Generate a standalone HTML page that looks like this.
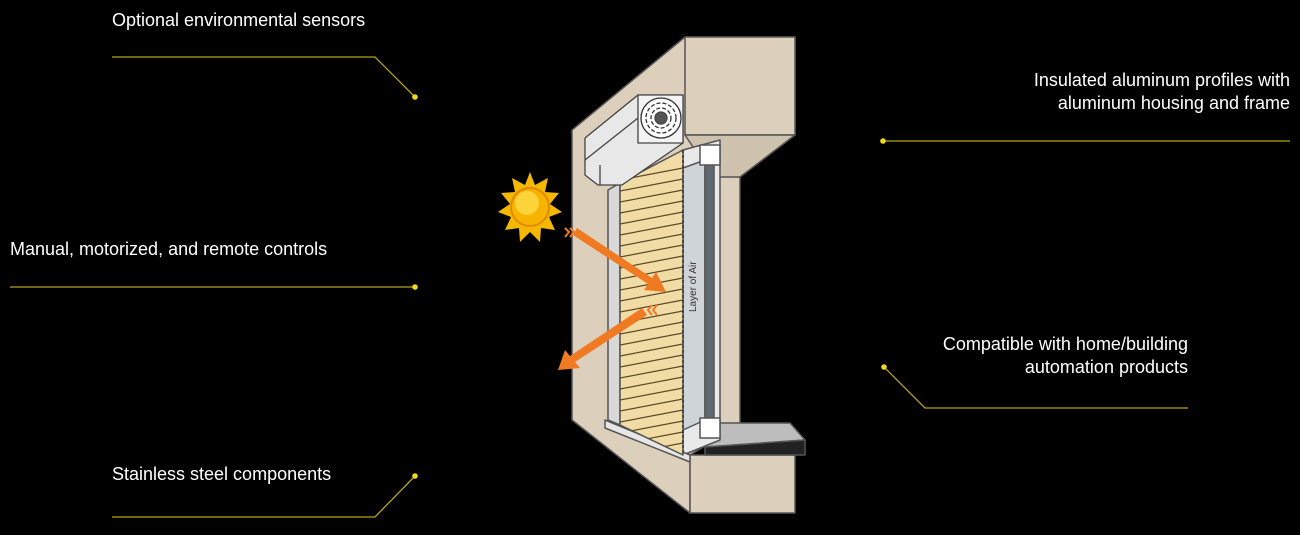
<!DOCTYPE html>
<html><head><meta charset="utf-8"><style>
html,body{margin:0;padding:0;background:#000;}
body{width:1300px;height:535px;position:relative;overflow:hidden;font-family:"Liberation Sans",sans-serif;color:#fff;}
.t{position:absolute;font-size:18px;line-height:23px;white-space:nowrap;}
.r{text-align:right;}
svg{position:absolute;left:0;top:0;}
</style></head><body>
<svg width="1300" height="535" viewBox="0 0 1300 535">
<defs>
<clipPath id="sl"><polygon points="620,183 683,150 683,455 620,425"/></clipPath>
</defs>
<g stroke="#b5a21a" stroke-width="1.3" fill="none">
<polyline points="112,57 375,57 415,97"/>
<polyline points="10,287 415,287"/>
<polyline points="112,517 375,517 415,476"/>
<polyline points="883,141 1290,141"/>
<polyline points="884,367 925,408 1188,408"/>
</g>
<g fill="#f2d81c">
<circle cx="415" cy="97" r="2.8"/><circle cx="415" cy="287" r="2.8"/><circle cx="415" cy="476" r="2.8"/>
<circle cx="883" cy="141" r="2.8"/><circle cx="884" cy="367" r="2.8"/>
</g>
<g stroke="#555" stroke-width="1.5" stroke-linejoin="round">
<polygon fill="#dccfbc" points="572,130 685,37 795,37 795,135 740,177 740,425 690,455 690,513 572,420"/>
<polygon fill="#dccfbc" points="685,37 795,37 795,135 685,135"/>
<polygon fill="#dccfbc" points="690,455 795,455 795,513 690,513"/>
<polygon fill="#cfc2ae" points="685,135 795,135 740,177 713,177"/>
<polygon fill="#bdbdbd" points="700,423 790,423 805,440 705,447"/>
<polygon fill="#222" points="705,447 805,440 805,455 705,455"/>
<polygon fill="#e9e9e9" points="683,150 720,140 720,440 683,455"/>
<polygon fill="#cfd4d8" points="683,168 705,160 705,420 683,430"/>
<polygon fill="#606870" points="705,158 714,155 714,420 705,420"/>
<rect x="700" y="145" width="20" height="20" fill="#fff"/>
<rect x="700" y="418" width="20" height="20" fill="#fff"/>
<polygon fill="#d8d8d8" points="608,190 620,183 620,425 608,420"/>
<polygon fill="#e6e6e6" points="605,420 690,455 690,462 605,428"/>
<polygon fill="#f2dca6" points="620,183 683,150 683,455 620,425"/>
</g>
<g clip-path="url(#sl)" stroke="#5a4a28" stroke-width="1.2">
<line x1="620" y1="180" x2="683" y2="168"/><line x1="620" y1="191" x2="683" y2="179"/><line x1="620" y1="202" x2="683" y2="190"/><line x1="620" y1="213" x2="683" y2="201"/><line x1="620" y1="224" x2="683" y2="212"/><line x1="620" y1="235" x2="683" y2="223"/><line x1="620" y1="246" x2="683" y2="234"/><line x1="620" y1="257" x2="683" y2="245"/><line x1="620" y1="268" x2="683" y2="256"/><line x1="620" y1="279" x2="683" y2="267"/><line x1="620" y1="290" x2="683" y2="278"/><line x1="620" y1="301" x2="683" y2="289"/><line x1="620" y1="312" x2="683" y2="300"/><line x1="620" y1="323" x2="683" y2="311"/><line x1="620" y1="334" x2="683" y2="322"/><line x1="620" y1="345" x2="683" y2="333"/><line x1="620" y1="356" x2="683" y2="344"/><line x1="620" y1="367" x2="683" y2="355"/><line x1="620" y1="378" x2="683" y2="366"/><line x1="620" y1="389" x2="683" y2="377"/><line x1="620" y1="400" x2="683" y2="388"/><line x1="620" y1="411" x2="683" y2="399"/><line x1="620" y1="422" x2="683" y2="410"/><line x1="620" y1="433" x2="683" y2="421"/><line x1="620" y1="444" x2="683" y2="432"/><line x1="620" y1="455" x2="683" y2="443"/>
</g>
<line x1="683" y1="150" x2="683" y2="455" stroke="#333" stroke-width="1.5" stroke-dasharray="3,2"/>
<g stroke="#444" stroke-width="1.3" stroke-linejoin="round">
<polygon fill="#e8e8e8" points="585,138 638,95 683,95 683,143 622,185 598,185 585,175"/>
<line x1="585" y1="160" x2="638" y2="118"/><line x1="600" y1="185" x2="600" y2="165"/>
<rect x="638" y="95" width="45" height="48" fill="#f3f3f3"/>
<circle cx="661" cy="118" r="20" fill="#fff" stroke="#333"/>
<circle cx="661" cy="118" r="15" fill="none" stroke="#333" stroke-dasharray="4,2"/>
<circle cx="661" cy="118" r="10" fill="none" stroke="#333" stroke-dasharray="4,2"/>
<circle cx="661" cy="118" r="6" fill="#555"/>
</g>
<text x="0" y="0" transform="translate(696,312) rotate(-90)" font-family="Liberation Sans,sans-serif" font-size="10" fill="#333">Layer of Air</text>
<g fill="#f4b800">
<polygon points="530,172 535,185 548,178 545,192 559,193 550,204 562,212 549,217 555,230 541,228 540,242 530,232 520,242 519,228 505,230 511,217 498,212 510,204 501,193 515,192 512,178 525,185"/>
</g>
<circle cx="530" cy="207" r="19" fill="#f8b200" stroke="#e08a00" stroke-width="2"/>
<circle cx="527" cy="203" r="12" fill="#fcd33a"/>
<g fill="#f07a22">
<polygon points="577,228 652,278 656,272 666,292 644,290 648,284 573,235"/>
<polygon points="642,308 570,356 565,350 558,370 580,368 575,362 647,315"/>
</g>
<g stroke="#f07a22" stroke-width="2" fill="none">
<polyline points="570,228 574,232 570,237"/><polyline points="565,228 569,232 565,237"/>
<polyline points="652,305 648,310 652,315"/><polyline points="657,305 653,310 657,315"/>
</g>
</svg>
<div class="t" style="left:112px;top:9px;">Optional environmental sensors</div>
<div class="t" style="left:10px;top:238px;">Manual, motorized, and remote controls</div>
<div class="t" style="left:112px;top:463px;">Stainless steel components</div>
<div class="t r" style="right:10px;top:69px;">Insulated aluminum profiles with<br>aluminum housing and frame</div>
<div class="t r" style="right:112px;top:333px;">Compatible with home/building<br>automation products</div>
</body></html>
